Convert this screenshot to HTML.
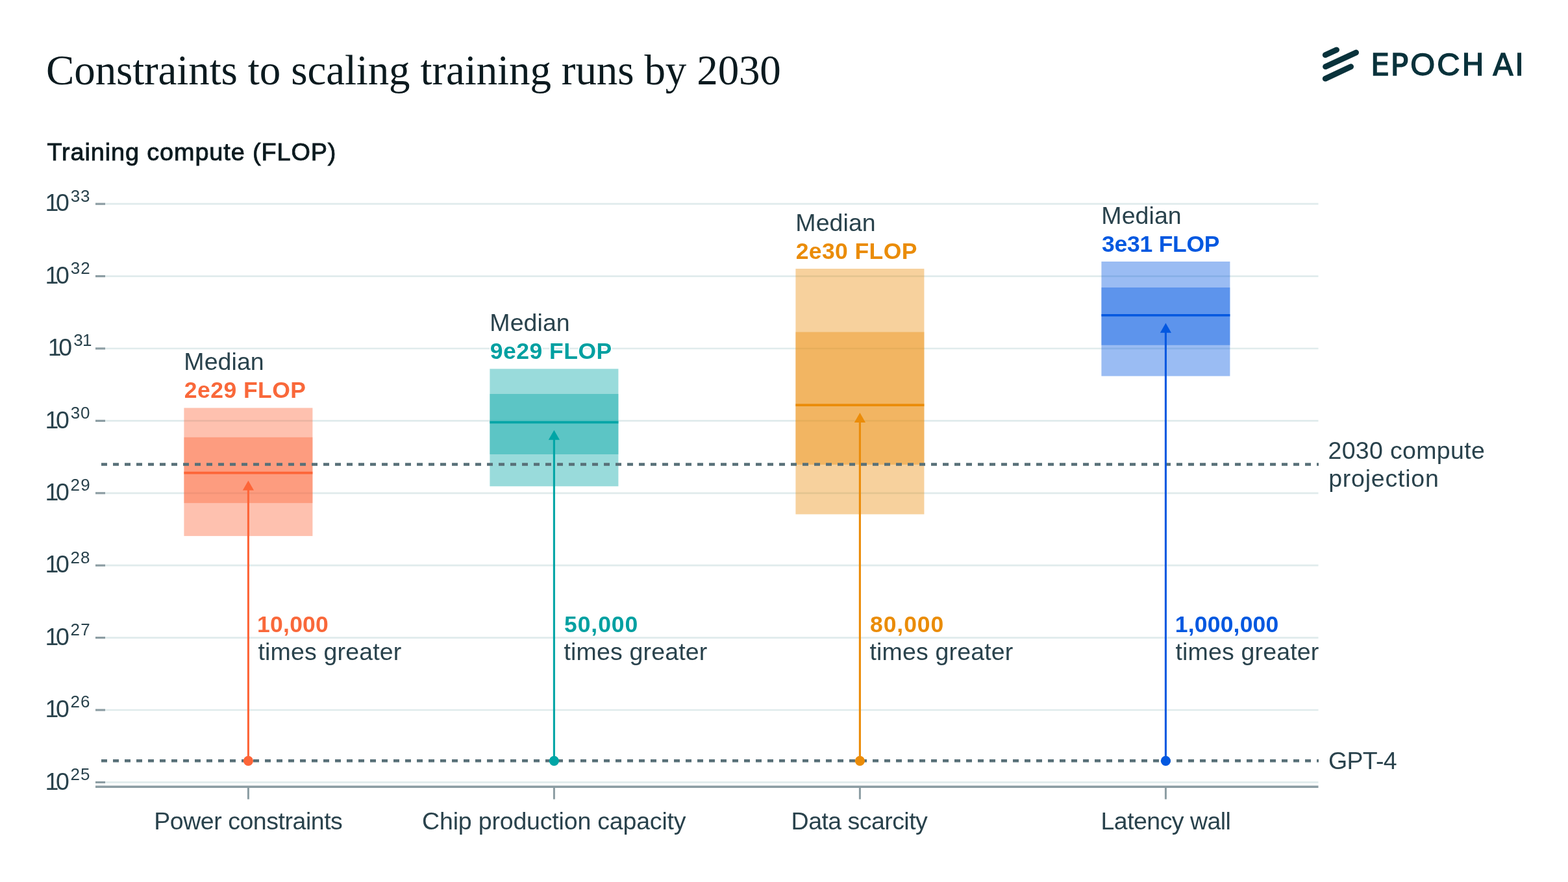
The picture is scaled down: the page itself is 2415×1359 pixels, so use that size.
<!DOCTYPE html>
<html lang="en"><head><meta charset="utf-8"><title>Constraints to scaling training runs by 2030</title>
<style>
html,body{margin:0;padding:0;background:#fff;}
body{width:2415px;height:1359px;overflow:hidden;}
svg{display:block;}
text{font-family:"Liberation Sans",sans-serif;fill:#29424c;}
.title{font-family:"Liberation Serif",serif;fill:#0b1a1f;}
.b{font-weight:bold;}
.halo{paint-order:stroke;stroke:#fff;stroke-width:3.5px;stroke-linejoin:round;}
</style></head><body>
<svg width="2415" height="1359" viewBox="0 0 2415 1359">
<rect width="2415" height="1359" fill="#fff"/>

<text class="title" x="71.03" y="129.50" font-size="65" textLength="1131.84" lengthAdjust="spacing">Constraints to scaling training runs by 2030</text>
<g role="img" aria-label="EPOCH AI logo"><g stroke="#09323b" stroke-width="8.8" stroke-linecap="round" fill="none"><path d="M2041.2 84.7L2058.6 76.8"/><path d="M2041.5 102.7L2088.6 80.9"/><path d="M2041.2 121.2L2080.6 102.7"/></g>
<text x="2111.08 2141.61 2172.15 2213.24 2251.35 2286 2299.13 2333.37" y="115.57" font-size="46" stroke="#09323b" stroke-width="1.46" style="fill:#09323b;font-family:'DejaVu Sans','Liberation Sans',sans-serif">EP<tspan font-size="48.75" style="font-family:'Liberation Sans',sans-serif">OC</tspan>H AI</text></g>
<text x="72.45" y="246.80" font-size="37.8" textLength="444.99" lengthAdjust="spacing" style="fill:#0b1a1f" stroke="#0b1a1f" stroke-width="0.9">Training compute (FLOP)</text>
<line x1="162" x2="2030.5" y1="314.20" y2="314.20" stroke="#e0ebec" stroke-width="2.7"/>
<line x1="147" x2="162" y1="314.20" y2="314.20" stroke="#8c9da3" stroke-width="3.2"/>
<text x="69.60 85.97" y="325.40" font-size="37.5">10</text>
<text x="108.81" y="310.60" font-size="26" textLength="29.73" lengthAdjust="spacing">33</text>
<line x1="162" x2="2030.5" y1="425.60" y2="425.60" stroke="#e0ebec" stroke-width="2.7"/>
<line x1="147" x2="162" y1="425.60" y2="425.60" stroke="#8c9da3" stroke-width="3.2"/>
<text x="69.60 85.97" y="436.80" font-size="37.5">10</text>
<text x="108.81" y="422.00" font-size="26" textLength="29.90" lengthAdjust="spacing">32</text>
<line x1="162" x2="2030.5" y1="537.00" y2="537.00" stroke="#e0ebec" stroke-width="2.7"/>
<line x1="147" x2="162" y1="537.00" y2="537.00" stroke="#8c9da3" stroke-width="3.2"/>
<text x="73.80 90.17" y="548.20" font-size="37.5">10</text>
<text x="113.35 126.96" y="533.40" font-size="26">31</text>
<line x1="162" x2="2030.5" y1="648.40" y2="648.40" stroke="#e0ebec" stroke-width="2.7"/>
<line x1="147" x2="162" y1="648.40" y2="648.40" stroke="#8c9da3" stroke-width="3.2"/>
<text x="69.60 85.97" y="659.60" font-size="37.5">10</text>
<text x="108.81" y="644.80" font-size="26" textLength="29.61" lengthAdjust="spacing">30</text>
<line x1="162" x2="2030.5" y1="759.80" y2="759.80" stroke="#e0ebec" stroke-width="2.7"/>
<line x1="147" x2="162" y1="759.80" y2="759.80" stroke="#8c9da3" stroke-width="3.2"/>
<text x="69.60 85.97" y="771.00" font-size="37.5">10</text>
<text x="108.49" y="756.20" font-size="26" textLength="30.14" lengthAdjust="spacing">29</text>
<line x1="162" x2="2030.5" y1="871.20" y2="871.20" stroke="#e0ebec" stroke-width="2.7"/>
<line x1="147" x2="162" y1="871.20" y2="871.20" stroke="#8c9da3" stroke-width="3.2"/>
<text x="69.60 85.97" y="882.40" font-size="37.5">10</text>
<text x="108.49" y="867.60" font-size="26" textLength="30.04" lengthAdjust="spacing">28</text>
<line x1="162" x2="2030.5" y1="982.60" y2="982.60" stroke="#e0ebec" stroke-width="2.7"/>
<line x1="147" x2="162" y1="982.60" y2="982.60" stroke="#8c9da3" stroke-width="3.2"/>
<text x="69.60 85.97" y="993.80" font-size="37.5">10</text>
<text x="108.49" y="979.00" font-size="26" textLength="30.22" lengthAdjust="spacing">27</text>
<line x1="162" x2="2030.5" y1="1094.00" y2="1094.00" stroke="#e0ebec" stroke-width="2.7"/>
<line x1="147" x2="162" y1="1094.00" y2="1094.00" stroke="#8c9da3" stroke-width="3.2"/>
<text x="69.60 85.97" y="1105.20" font-size="37.5">10</text>
<text x="108.49" y="1090.40" font-size="26" textLength="30.05" lengthAdjust="spacing">26</text>
<line x1="162" x2="2030.5" y1="1205.40" y2="1205.40" stroke="#e0ebec" stroke-width="2.7"/>
<line x1="147" x2="162" y1="1205.40" y2="1205.40" stroke="#8c9da3" stroke-width="3.2"/>
<text x="69.60 85.97" y="1216.60" font-size="37.5">10</text>
<text x="108.49" y="1201.80" font-size="26" textLength="30.00" lengthAdjust="spacing">25</text>
<line x1="147" x2="2030.5" y1="1212.25" y2="1212.25" stroke="#8c9da3" stroke-width="3.3"/>
<line x1="382.4" x2="382.4" y1="1212" y2="1231.5" stroke="#8c9da3" stroke-width="3"/>
<line x1="853.4" x2="853.4" y1="1212" y2="1231.5" stroke="#8c9da3" stroke-width="3"/>
<line x1="1324.4" x2="1324.4" y1="1212" y2="1231.5" stroke="#8c9da3" stroke-width="3"/>
<line x1="1795.4" x2="1795.4" y1="1212" y2="1231.5" stroke="#8c9da3" stroke-width="3"/>
<text x="237.22" y="1277.70" font-size="37.5" textLength="290.63" lengthAdjust="spacing">Power constraints</text>
<text x="650.10" y="1277.70" font-size="37.5" textLength="406.48" lengthAdjust="spacing">Chip production capacity</text>
<text x="1218.62" y="1277.70" font-size="37.5" textLength="210.15" lengthAdjust="spacing">Data scarcity</text>
<text x="1695.52" y="1277.70" font-size="37.5" textLength="200.38" lengthAdjust="spacing">Latency wall</text>
<rect x="283.4" y="628.5" width="198" height="197.40" fill="#fd6538" fill-opacity="0.4"/>
<rect x="283.4" y="673.8" width="198" height="101.30" fill="#fd6538" fill-opacity="0.4"/>
<line x1="283.4" x2="481.4" y1="728.6" y2="728.6" stroke="#fd6538" stroke-width="3.6"/>
<rect x="754.4" y="568.3" width="198" height="181.00" fill="#00a5a6" fill-opacity="0.4"/>
<rect x="754.4" y="607" width="198" height="93.00" fill="#00a5a6" fill-opacity="0.4"/>
<line x1="754.4" x2="952.4" y1="650.8" y2="650.8" stroke="#00a5a6" stroke-width="3.6"/>
<rect x="1225.4" y="414.05" width="198" height="378.35" fill="#eb8c09" fill-opacity="0.4"/>
<rect x="1225.4" y="511.6" width="198" height="204.30" fill="#eb8c09" fill-opacity="0.4"/>
<line x1="1225.4" x2="1423.4" y1="624.1" y2="624.1" stroke="#eb8c09" stroke-width="3.6"/>
<rect x="1696.4" y="403.0" width="198" height="176.50" fill="#0358e0" fill-opacity="0.4"/>
<rect x="1696.4" y="443" width="198" height="88.75" fill="#0358e0" fill-opacity="0.4"/>
<line x1="1696.4" x2="1894.4" y1="485.8" y2="485.8" stroke="#0358e0" stroke-width="3.6"/>
<line x1="156" x2="2031" y1="715.6" y2="715.6" stroke="#587078" stroke-width="4.5" stroke-dasharray="9 9"/>
<line x1="156" x2="2031" y1="1172.3" y2="1172.3" stroke="#587078" stroke-width="4.5" stroke-dasharray="9 9"/>
<line x1="382.4" x2="382.4" y1="1172.3" y2="752.6" stroke="#fd6538" stroke-width="3.1"/>
<path d="M382.4 740.6L391.0 755.6L373.79999999999995 755.6Z" fill="#fd6538"/>
<circle cx="382.4" cy="1172.3" r="7.6" fill="#fd6538"/>
<line x1="853.4" x2="853.4" y1="1172.3" y2="674.8" stroke="#00a5a6" stroke-width="3.1"/>
<path d="M853.4 662.8L862.0 677.8L844.8 677.8Z" fill="#00a5a6"/>
<circle cx="853.4" cy="1172.3" r="7.6" fill="#00a5a6"/>
<line x1="1324.4" x2="1324.4" y1="1172.3" y2="648.1" stroke="#eb8c09" stroke-width="3.1"/>
<path d="M1324.4 636.1L1333.0 651.1L1315.8000000000002 651.1Z" fill="#eb8c09"/>
<circle cx="1324.4" cy="1172.3" r="7.6" fill="#eb8c09"/>
<line x1="1795.4" x2="1795.4" y1="1172.3" y2="509.8" stroke="#0358e0" stroke-width="3.1"/>
<path d="M1795.4 497.8L1804.0 512.8L1786.8000000000002 512.8Z" fill="#0358e0"/>
<circle cx="1795.4" cy="1172.3" r="7.6" fill="#0358e0"/>
<text class="halo" x="283.32" y="570.10" font-size="37.5" textLength="123.41" lengthAdjust="spacing">Median</text>
<text class="b halo" x="283.87" y="613.25" font-size="35.5" textLength="187.14" lengthAdjust="spacing" style="fill:#f9683a">2e29 FLOP</text>
<text class="halo" x="754.32" y="509.90" font-size="37.5" textLength="123.41" lengthAdjust="spacing">Median</text>
<text class="b halo" x="754.67" y="553.05" font-size="35.5" textLength="187.54" lengthAdjust="spacing" style="fill:#00a0a1">9e29 FLOP</text>
<text class="halo" x="1225.32" y="355.65" font-size="37.5" textLength="123.41" lengthAdjust="spacing">Median</text>
<text class="b halo" x="1225.67" y="398.80" font-size="35.5" textLength="186.74" lengthAdjust="spacing" style="fill:#ea8c08">2e30 FLOP</text>
<text class="halo" x="1696.32" y="344.60" font-size="37.5" textLength="123.41" lengthAdjust="spacing">Median</text>
<text class="b halo" x="1697.09" y="387.75" font-size="35.5" textLength="181.43" lengthAdjust="spacing" style="fill:#0358e0">3e31 FLOP</text>
<text class="b halo" x="396.06" y="973.90" font-size="35.5" textLength="109.79" lengthAdjust="spacing" style="fill:#f9683a">10,000</text>
<text class="halo" x="397.53" y="1016.70" font-size="37.5" textLength="220.69" lengthAdjust="spacing">times greater</text>
<text class="b halo" x="869.01" y="973.90" font-size="35.5" textLength="113.25" lengthAdjust="spacing" style="fill:#00a0a1">50,000</text>
<text class="halo" x="868.53" y="1016.70" font-size="37.5" textLength="220.69" lengthAdjust="spacing">times greater</text>
<text class="b halo" x="1339.97" y="973.90" font-size="35.5" textLength="113.28" lengthAdjust="spacing" style="fill:#ea8c08">80,000</text>
<text class="halo" x="1339.53" y="1016.70" font-size="37.5" textLength="220.69" lengthAdjust="spacing">times greater</text>
<text class="b halo" x="1809.76" y="973.90" font-size="35.5" textLength="159.49" lengthAdjust="spacing" style="fill:#0358e0">1,000,000</text>
<text class="halo" x="1810.53" y="1016.70" font-size="37.5" textLength="220.69" lengthAdjust="spacing">times greater</text>
<text x="2045.51" y="707.00" font-size="37.5" textLength="241.25" lengthAdjust="spacing">2030 compute</text>
<text x="2046.18" y="749.90" font-size="37.5" textLength="169.65" lengthAdjust="spacing">projection</text>
<text x="2045.91" y="1184.90" font-size="37.5" textLength="105.68" lengthAdjust="spacing">GPT-4</text>
</svg></body></html>
